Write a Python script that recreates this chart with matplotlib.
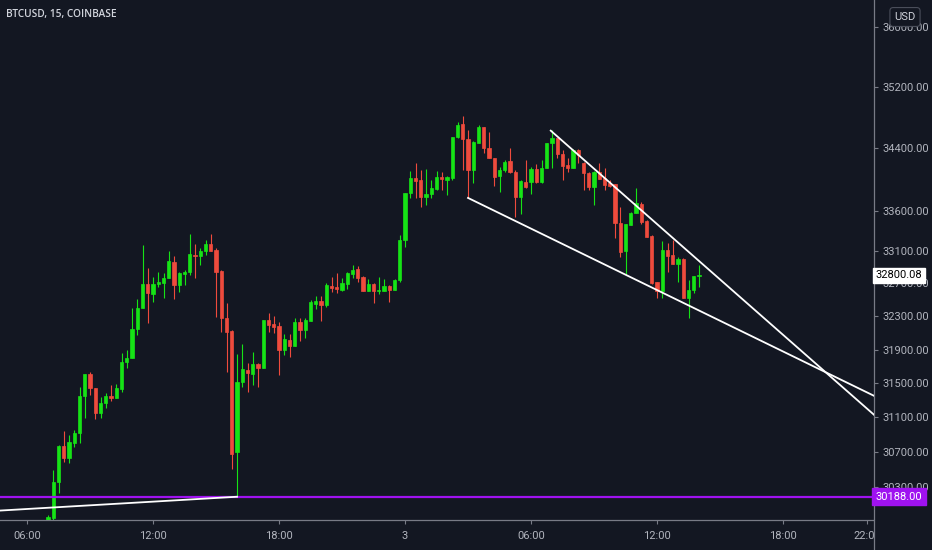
import matplotlib
matplotlib.use('Agg')
import matplotlib.pyplot as plt
import numpy as np
from matplotlib import font_manager
from matplotlib.ticker import FixedLocator, NullLocator, FuncFormatter
from matplotlib.transforms import blended_transform_factory
from matplotlib.patches import Rectangle
from matplotlib.lines import Line2D

# ---------------- data ----------------
title = 'BTCUSD, 15, COINBASE'
first_bar_hour = 7.0      # 07:00 on day 2 (hours counted from 00:00 of day 2)
bar_hours = 0.25          # 15-minute bars

opens = [29880, 29950, 30357, 30770, 30632, 30805, 30920, 31352, 31611, 31446,
         31153, 31270, 31352, 31328, 31434, 31753, 31801, 32149, 32403, 32695,
         32573, 32695, 32707, 32769, 32966, 32683, 32818, 32843, 33052, 33040,
         33102, 33189, 33114, 32855, 32281, 32125, 30701, 31516, 31658, 31611,
         31729, 31682, 32257, 32209, 32185, 31897, 32016, 31944, 32233, 32137,
         32245, 32451, 32488, 32439, 32671, 32659, 32622, 32695, 32818, 32880,
         32781, 32610, 32695, 32610, 32610, 32671, 32622, 32744, 33239, 33829,
         34020, 33994, 33779, 33817, 33880, 34033, 33994, 34020, 34547, 34715,
         34521, 34122, 34469, 34676, 34405, 34276, 34045, 34122, 34237, 34096,
         33779, 33969, 33969, 34135, 33969, 34147, 34469, 34534, 34327, 34186,
         34147, 34379, 34212, 34083, 33905, 34096, 34020, 33956, 33943, 33451,
         33102, 33426, 33577, 33690, 33476, 33289, 32720, 32610, 33114, 33052,
         32941, 33003, 32524, 32622, 32794]
highs = [29985, 30494, 30775, 30943, 30897, 30955, 31457, 31611, 31634, 31446,
         31340, 31387, 31481, 31493, 31861, 31897, 32403, 32512, 33177, 32892,
         32781, 32843, 32830, 33102, 33040, 32843, 32867, 33314, 33189, 33139,
         33239, 33314, 33139, 32867, 32464, 32137, 31849, 31969, 31741, 31873,
         31741, 32257, 32342, 32306, 32233, 32089, 32089, 32281, 32281, 32281,
         32500, 32549, 32549, 32707, 32781, 32830, 32769, 32843, 32929, 32917,
         32794, 32757, 32707, 32781, 32757, 32683, 32757, 33301, 33829, 34109,
         34212, 34122, 34135, 33994, 34109, 34096, 34045, 34547, 34741, 34819,
         34637, 34495, 34702, 34676, 34611, 34276, 34160, 34250, 34405, 34122,
         33994, 34250, 34160, 34199, 34250, 34469, 34637, 34534, 34379, 34276,
         34392, 34392, 34224, 34096, 34109, 34212, 34147, 33994, 33943, 33652,
         33439, 33589, 33892, 33716, 33489, 33301, 32720, 33226, 33201, 33239,
         33028, 33015, 32744, 32794, 32929]
lows = [29850, 29930, 30235, 30586, 30575, 30759, 30805, 31094, 31364, 31083,
        31094, 31211, 31293, 31328, 31399, 31682, 31801, 32077, 32403, 32221,
        32476, 32659, 32524, 32769, 32512, 32598, 32683, 32806, 32769, 32929,
        33052, 33102, 32293, 32113, 31634, 30505, 30188, 31457, 31399, 31481,
        31457, 31682, 32113, 32101, 31599, 31837, 31813, 31944, 32004, 32040,
        32245, 32391, 32245, 32415, 32598, 32585, 32610, 32634, 32769, 32720,
        32610, 32610, 32464, 32573, 32610, 32476, 32622, 32720, 33152, 33766,
        33766, 33652, 33677, 33766, 33867, 33867, 33804, 33994, 34534, 34122,
        33766, 33956, 34469, 34340, 34276, 33918, 33842, 34096, 34083, 33527,
        33564, 33892, 33817, 33956, 33956, 34147, 34147, 34276, 33994, 34096,
        34147, 34212, 33867, 33867, 33677, 34007, 33867, 33905, 33264, 33028,
        32818, 33426, 33577, 33439, 33276, 32695, 32524, 32524, 32843, 32941,
        32720, 32524, 32281, 32585, 32659]
closes = [29960, 30355, 30770, 30632, 30816, 30920, 31352, 31611, 31446, 31153,
          31270, 31352, 31328, 31446, 31753, 31801, 32149, 32403, 32695, 32585,
          32695, 32720, 32769, 32979, 32683, 32830, 32843, 33065, 33040, 33102,
          33189, 33102, 32843, 32281, 32113, 30678, 31516, 31670, 31623, 31729,
          31682, 32257, 32197, 32173, 31897, 32028, 31944, 32233, 32137, 32257,
          32476, 32488, 32439, 32683, 32647, 32634, 32707, 32830, 32867, 32769,
          32610, 32695, 32610, 32622, 32671, 32622, 32744, 33239, 33829, 34020,
          33981, 33779, 33817, 33892, 34033, 34007, 34033, 34547, 34702, 34521,
          34122, 34482, 34676, 34405, 34276, 34033, 34122, 34224, 34096, 33779,
          33981, 33905, 34135, 33969, 34147, 34469, 34534, 34327, 34173, 34147,
          34379, 34314, 34083, 33905, 34096, 34007, 33930, 33918, 33451, 33089,
          33439, 33577, 33703, 33464, 33276, 32707, 32610, 33114, 33040, 32941,
          33003, 32524, 32622, 32794, 32800.08]

xtick_hours = [6, 12, 18, 24, 30, 36, 42, 46]
xtick_labels = ['06:00', '12:00', '18:00', '3', '06:00', '12:00', '18:00', '22:00']
ytick_values = [36000, 35200, 34400, 33600, 33100, 32700, 32300, 31900,
                31500, 31100, 30700, 30300]

base_line_hours = [4.714, 16.0]
base_line_prices = [30032, 30188]
lower_line_hours = [27.0, 46.333]
lower_line_prices = [33766, 31352]
upper_line_hours = [30.94, 46.333]
upper_line_prices = [34628, 31130]
hline_price = 30188.00
last_price = 32800.08

x_range = (4.714, 46.333)
y_range = (29926, 36366)

# ---------------- style ----------------
BG = '#131722'
AXC = '#787b86'
TXT = '#b2b5be'
UP = '#16e316'
DOWN = '#ef4b3d'
PURPLE = '#9f12f0'

names = {f.name for f in font_manager.fontManager.ttflist}
label_font = 'Liberation Sans Narrow' if 'Liberation Sans Narrow' in names else 'Roboto'
plt.rcParams['font.family'] = [label_font, 'DejaVu Sans']
LS = 8 if label_font == 'Roboto' else 9

W, H = 932, 550
fig = plt.figure(figsize=(W / 100, H / 100), dpi=100, facecolor=BG)
ax = fig.add_axes([0, 30 / H, 874 / W, 520 / H], facecolor=BG)

o = np.array(opens, float); h = np.array(highs, float)
l = np.array(lows, float); c = np.array(closes, float)
t = first_bar_hour + bar_hours * np.arange(len(o))
cols = [UP if cc >= oo else DOWN for oo, cc in zip(o, c)]

ax.vlines(t, l, h, colors=cols, linewidth=0.8, zorder=3)
ax.bar(t, np.abs(c - o), bottom=np.minimum(o, c), width=0.165, color=cols,
       edgecolor=cols, linewidth=0.5, zorder=4)

ax.axhline(hline_price, color=PURPLE, linewidth=1.6, zorder=5)
ax.plot(base_line_hours, base_line_prices, color='white', linewidth=1.3, zorder=6)
ax.plot(lower_line_hours, lower_line_prices, color='white', linewidth=1.3, zorder=6)
ax.plot(upper_line_hours, upper_line_prices, color='white', linewidth=1.3, zorder=6)

ax.set_yscale('log')
ax.set_xlim(*x_range)
ax.set_ylim(*y_range)
ax.yaxis.set_major_locator(FixedLocator(ytick_values))
ax.yaxis.set_minor_locator(NullLocator())
ax.yaxis.set_major_formatter(FuncFormatter(lambda v, p: f'{v:.2f}'))
ax.yaxis.tick_right()
ax.set_xticks(xtick_hours, labels=xtick_labels)

for s in ['top', 'left']:
    ax.spines[s].set_visible(False)
for s in ['right', 'bottom']:
    ax.spines[s].set_color(AXC)
    ax.spines[s].set_linewidth(0.9)
ax.tick_params(axis='y', which='both', right=True, left=False, length=3, width=0.8,
               color=AXC, labelcolor=TXT, labelsize=LS, pad=3)
ax.tick_params(axis='x', length=3, width=0.8, color=AXC, labelcolor=TXT,
               labelsize=LS, pad=5)

tr = blended_transform_factory(ax.transAxes, ax.transData)
ax.text(1.0015, last_price, f'{last_price:.2f}', transform=tr, ha='left', va='center',
        fontsize=LS, color='black', clip_on=False, zorder=20,
        bbox=dict(boxstyle='square,pad=0.25', fc='white', ec='white'))
ax.text(1.0015, hline_price, f'{hline_price:.2f}', transform=tr, ha='left', va='center',
        fontsize=LS, color='white', clip_on=False, zorder=20,
        bbox=dict(boxstyle='square,pad=0.33', fc=PURPLE, ec=PURPLE))

# right price-scale panel covers the x labels beyond the plot
fig.patches.append(Rectangle((875 / W, 0), 1 - 875 / W, 30 / H, transform=fig.transFigure,
                             facecolor=BG, edgecolor='none', zorder=5))
fig.lines.append(Line2D([874 / W, 874 / W], [0, 30 / H], transform=fig.transFigure,
                        color=AXC, linewidth=0.9, zorder=6))

fig.text(6 / W, 1 - 15 / H, title, ha='left', va='center', fontsize=7.3,
         color='#d1d4dc', family=['Open Sans', 'DejaVu Sans'], fontweight='semibold')
fig.text(905 / W, 1 - 17 / H, 'USD', ha='center', va='center', fontsize=8, color='#d1d4dc',
         zorder=10,
         bbox=dict(boxstyle='round,pad=0.4,rounding_size=0.3', fc=BG, ec='#4a4e5a', lw=0.8))

fig.savefig('out.png', dpi=100, facecolor=BG)
